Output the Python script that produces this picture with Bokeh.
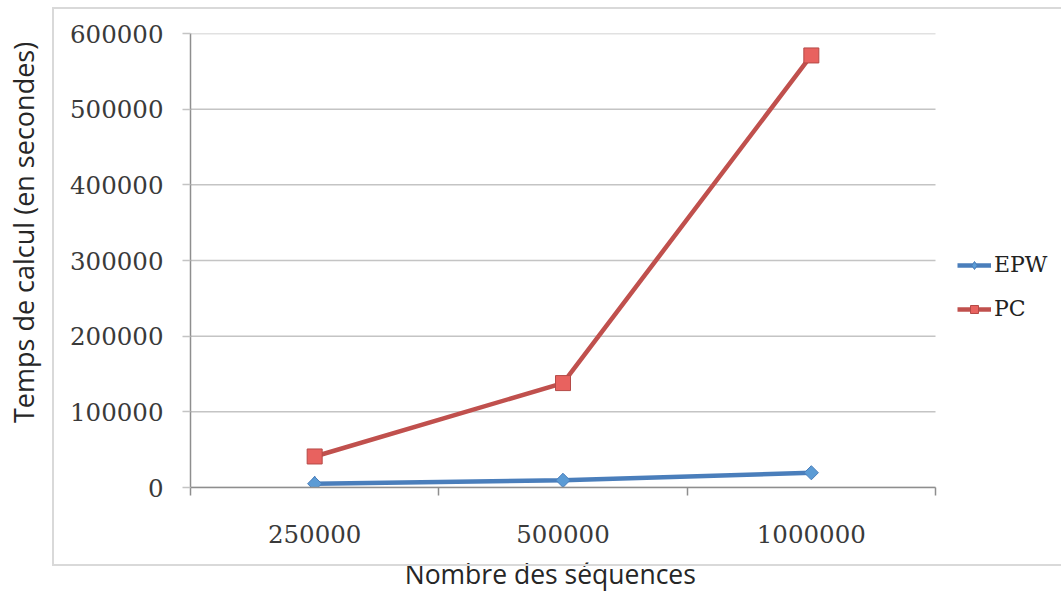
import math
from bokeh.plotting import figure
from bokeh.models import (Range1d, FixedTicker, Legend, LegendItem,
                          NumeralTickFormatter, InlineStyleSheet)
from bokeh.embed import file_html
from bokeh.resources import INLINE

# ---- data ----
categories = ["250000", "500000", "1000000"]
epw = [5000, 9500, 19500]
pc = [41000, 138000, 571000]
y_ticks = [0, 100000, 200000, 300000, 400000, 500000, 600000]
series_names = ["EPW", "PC"]
x_title = "Nombre des séquences"
y_title = "Temps de calcul (en secondes)"

ncat = len(categories)
x_pos = [i + 0.5 for i in range(ncat)]

# ---- layout constants ----
W, H = 1061, 594
LEFT, TOP, BOTTOM = 190, 33, 106
PLOT_W = 745                       # width of the category area in px
frame_w = W - LEFT                 # frame extends to the right edge to host the legend
x_end = ncat * frame_w / PLOT_W

NBSP = "\u00a0"

p = figure(width=W, height=H, output_backend="svg", toolbar_location=None,
           x_range=Range1d(0, x_end), y_range=Range1d(0, y_ticks[-1]),
           min_border_left=LEFT, min_border_right=0, min_border_top=TOP,
           min_border_bottom=BOTTOM)
p.outline_line_color = None
p.background_fill_color = "white"
p.border_fill_color = "white"
p.xgrid.visible = False
p.ygrid.visible = False

LABEL_FONT = "DejaVu Serif"
TITLE_FONT = "Open Sans"
GRID = "#c4c4c4"
AXIS = "#8e8e8e"

# horizontal gridlines, limited to the category area
p.segment(x0=[0] * len(y_ticks), x1=[ncat] * len(y_ticks), y0=y_ticks, y1=y_ticks,
          line_color=GRID, line_width=1.5, level="underlay")

# y axis
yax = p.yaxis[0]
yax.ticker = FixedTicker(ticks=y_ticks)
yax.formatter = NumeralTickFormatter(format="0")
yax.axis_line_color = AXIS
yax.axis_line_width = 1.5
yax.major_tick_out = 8
yax.major_tick_in = 0
yax.major_tick_line_color = GRID
yax.major_tick_line_width = 1.5
yax.minor_tick_line_color = None
yax.major_label_text_font = LABEL_FONT
yax.major_label_text_font_size = "24.5px"
yax.major_label_text_color = "#3a3a3a"
yax.major_label_standoff = 19
yax.axis_label = NBSP * 8 + y_title
yax.axis_label_standoff = 25
yax.axis_label_text_font = TITLE_FONT
yax.axis_label_text_font_size = "27px"
yax.axis_label_text_font_style = "normal"
yax.axis_label_text_color = "#262626"

# x axis
xax = p.xaxis[0]
xax.bounds = (0, ncat)
xax.ticker = FixedTicker(ticks=x_pos, minor_ticks=list(range(ncat + 1)))
xax.major_label_overrides = {x: c for x, c in zip(x_pos, categories)}
xax.axis_line_color = AXIS
xax.axis_line_width = 1.5
xax.major_tick_out = 0
xax.major_tick_in = 0
xax.major_tick_line_color = None
xax.minor_tick_out = 8
xax.minor_tick_in = 0
xax.minor_tick_line_color = AXIS
xax.minor_tick_line_width = 1.5
xax.major_label_text_font = LABEL_FONT
xax.major_label_text_font_size = "24.5px"
xax.major_label_text_color = "#3a3a3a"
xax.major_label_standoff = 29
xax.axis_label = x_title + NBSP * 22
xax.axis_label_standoff = 10
xax.axis_label_text_font = TITLE_FONT
xax.axis_label_text_font_size = "26.5px"
xax.axis_label_text_font_style = "normal"
xax.axis_label_text_color = "#262626"

# series
blue_line, blue_fill = "#4a7ebb", "#5b9bd5"
red_line, red_fill = "#c0504d", "#e8625f"

l1 = p.line(x_pos, epw, line_color=blue_line, line_width=4.5)
# diamond swatch used by the legend; sits under the first EPW marker
d1 = p.scatter(x_pos[:1], epw[:1], marker="diamond", size=15, fill_color=blue_fill,
               line_color=blue_line, line_width=1)
m1 = p.scatter(x_pos, epw, marker="square", angle=math.pi / 4, size=10,
               fill_color=blue_fill, line_color=blue_line, line_width=1)
l2 = p.line(x_pos, pc, line_color=red_line, line_width=4.5)
m2 = p.scatter(x_pos, pc, marker="square", size=15, fill_color=red_fill,
               line_color="#b54a47", line_width=1)

legend = Legend(items=[LegendItem(label=series_names[0], renderers=[l1, d1]),
                       LegendItem(label=series_names[1], renderers=[l2, m2])],
                location=(767, 166))
legend.border_line_color = None
legend.background_fill_alpha = 0
legend.padding = 0
legend.margin = 0
legend.spacing = 19
legend.glyph_width = 34
legend.glyph_height = 20
legend.label_height = 20
legend.label_standoff = 3
legend.label_text_font = LABEL_FONT
legend.label_text_font_size = "22px"
legend.label_text_color = "#222222"
p.add_layout(legend)

# outer chart border (the chart-area frame of the original)
p.stylesheets = [InlineStyleSheet(css=(
    ":host::after{content:'';position:absolute;left:52px;top:7px;right:0;"
    "height:559px;border:2px solid #d9d9d9;border-right:none;"
    "box-sizing:border-box;pointer-events:none;}"))]

open("out.html", "w").write(file_html(p, INLINE))
